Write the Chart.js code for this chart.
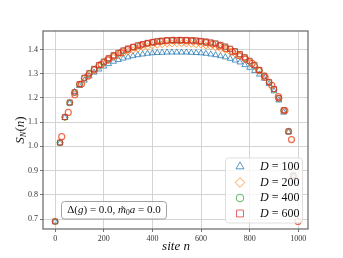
<!DOCTYPE html>
<html>
<head>
<meta charset="utf-8">
<script src="https://cdn.jsdelivr.net/npm/chart.js@4.4.1/dist/chart.umd.min.js"></script>
<style>
  html, body { margin: 0; padding: 0; background: #fff; }
  #box { width: 343px; height: 258px; }
</style>
</head>
<body>
<div id="box"><canvas id="myChart"></canvas></div>
<script>
// site positions
const sitesA = [0, 20, 40, 60, 80, 100, 120, 140, 160, 180, 200, 220, 240, 260, 280, 300, 320, 340, 360, 380,
    400, 420, 440, 460, 480, 500, 520, 540, 560, 580, 600, 620, 640, 660, 680, 700, 720, 740, 760, 780,
    800, 820, 840, 860, 880, 900, 920, 940, 960, 980];
const sitesB = [27, 54, 81, 108, 135, 162, 189, 216, 243, 270, 297, 324, 351, 378, 405, 432, 459, 486,
    513, 540, 567, 594, 621, 648, 675, 702, 729, 756, 783, 810, 837, 864, 891, 918, 945, 972, 999];

// entropy values
const d100 = [0.69, 1.013, 1.118, 1.178, 1.225, 1.25, 1.272, 1.29, 1.305, 1.318, 1.33, 1.34, 1.35, 1.357, 1.363,
    1.368, 1.373, 1.377, 1.38, 1.383, 1.385, 1.386, 1.387, 1.388, 1.388, 1.388, 1.388, 1.388, 1.387, 1.386,
    1.385, 1.383, 1.38, 1.377, 1.373, 1.368, 1.362, 1.355, 1.347, 1.336, 1.325, 1.312, 1.297, 1.28, 1.258,
    1.228, 1.19, 1.14, 1.058, 0.875];
const d200 = [0.69, 1.015, 1.12, 1.18, 1.222, 1.255, 1.281, 1.299, 1.316, 1.331, 1.344, 1.356, 1.367, 1.376, 1.384,
    1.391, 1.397, 1.403, 1.408, 1.412, 1.416, 1.419, 1.421, 1.423, 1.424, 1.425, 1.425, 1.424, 1.423, 1.421,
    1.419, 1.416, 1.412, 1.408, 1.403, 1.397, 1.39, 1.382, 1.372, 1.361, 1.347, 1.331, 1.311, 1.289, 1.263,
    1.235, 1.197, 1.147, 1.061, 0.879];
const d400 = [0.69, 1.015, 1.12, 1.18, 1.222, 1.256, 1.282, 1.30, 1.318, 1.334, 1.348, 1.362, 1.374, 1.384, 1.394,
    1.402, 1.409, 1.415, 1.42, 1.425, 1.429, 1.432, 1.434, 1.436, 1.437, 1.437, 1.437, 1.437, 1.436, 1.435,
    1.433, 1.431, 1.427, 1.423, 1.417, 1.41, 1.401, 1.391, 1.379, 1.366, 1.351, 1.334, 1.313, 1.29, 1.264,
    1.236, 1.198, 1.148, 1.062, 0.88];
const d600 = [0.69, 1.016, 1.121, 1.181, 1.223, 1.257, 1.283, 1.302, 1.32, 1.336, 1.35, 1.364, 1.376, 1.386, 1.396,
    1.404, 1.411, 1.417, 1.422, 1.427, 1.431, 1.434, 1.436, 1.438, 1.439, 1.439, 1.439, 1.439, 1.438, 1.437,
    1.435, 1.433, 1.429, 1.425, 1.419, 1.412, 1.403, 1.393, 1.381, 1.368, 1.353, 1.336, 1.315, 1.292, 1.266,
    1.237, 1.199, 1.149, 1.062, 0.88];
const extra = [1.04, 1.14, 1.213, 1.257, 1.29, 1.315, 1.338, 1.357, 1.373, 1.387, 1.399, 1.409, 1.417, 1.424,
    1.429, 1.433, 1.436, 1.437, 1.437, 1.436, 1.435, 1.432, 1.428, 1.422, 1.414, 1.403, 1.39, 1.374, 1.36,
    1.342, 1.315, 1.285, 1.252, 1.205, 1.148, 1.028, 0.69];

const xTicks = [0, 200, 400, 600, 800, 1000];
const yTicks = [0.7, 0.8, 0.9, 1.0, 1.1, 1.2, 1.3, 1.4];

const legendLabels = ['100', '200', '400', '600'];
const colors = ['rgba(31,119,180,0.75)', 'rgba(255,127,14,0.75)', 'rgba(44,160,44,0.75)', 'rgba(214,39,40,0.7)'];
const styles = ['triangle', 'rectRot', 'circle', 'rect'];
const radii = [3.4, 3.4, 2.9, 3.6];

const pts = (xs, ys) => xs.map((x, i) => ({ x: x, y: ys[i] }));
const series = [d100, d200, d400, d600];

const datasets = series.map((s, i) => ({
    data: pts(sitesA, s),
    pointStyle: styles[i],
    pointRadius: radii[i],
    borderColor: colors[i],
    backgroundColor: 'rgba(0,0,0,0)',
    pointBorderWidth: 1,
    showLine: false,
    order: 5 - i
}));
datasets.push({
    data: pts(sitesB, extra),
    pointStyle: 'circle',
    pointRadius: 3,
    borderColor: 'rgba(238,84,46,0.85)',
    backgroundColor: 'rgba(0,0,0,0)',
    pointBorderWidth: 1.2,
    showLine: false,
    order: 2.5
});

const serif = "'Liberation Serif', 'DejaVu Serif', serif";

// draw a row of text pieces: [text, size, italic, dy]
function drawPieces(ctx, pieces, x, y, align) {
    let total = 0;
    pieces.forEach(p => {
        ctx.font = (p[2] ? 'italic ' : '') + p[1] + 'px ' + serif;
        total += ctx.measureText(p[0]).width;
    });
    let cx = align === 'center' ? x - total / 2 : (align === 'right' ? x - total : x);
    ctx.textBaseline = 'middle';
    ctx.textAlign = 'left';
    pieces.forEach(p => {
        ctx.font = (p[2] ? 'italic ' : '') + p[1] + 'px ' + serif;
        ctx.fillText(p[0], cx, y + (p[3] || 0));
        cx += ctx.measureText(p[0]).width;
    });
    return total;
}

function roundRect(ctx, x, y, w, h, r) {
    ctx.beginPath();
    ctx.moveTo(x + r, y);
    ctx.lineTo(x + w - r, y);
    ctx.quadraticCurveTo(x + w, y, x + w, y + r);
    ctx.lineTo(x + w, y + h - r);
    ctx.quadraticCurveTo(x + w, y + h, x + w - r, y + h);
    ctx.lineTo(x + r, y + h);
    ctx.quadraticCurveTo(x, y + h, x, y + h - r);
    ctx.lineTo(x, y + r);
    ctx.quadraticCurveTo(x, y, x + r, y);
    ctx.closePath();
}

const extras = {
    id: 'extras',
    afterDatasetsDraw(chart) {
        const ctx = chart.ctx;
        const a = chart.chartArea;
        ctx.save();

        // frame
        ctx.strokeStyle = '#666';
        ctx.lineWidth = 1.2;
        ctx.strokeRect(a.left, a.top, a.right - a.left, a.bottom - a.top);

        // legend
        roundRect(ctx, 225.5, 158, 77, 65, 3);
        ctx.fillStyle = 'rgba(255,255,255,0.8)';
        ctx.fill();
        ctx.strokeStyle = 'rgba(215,215,215,0.8)';
        ctx.lineWidth = 1;
        ctx.stroke();
        const rowY = [166.5, 182.5, 198, 213.5];
        const legR = [4.6, 4.8, 3.8, 4.9];
        legendLabels.forEach((lab, i) => {
            ctx.strokeStyle = colors[i];
            ctx.fillStyle = 'rgba(0,0,0,0)';
            ctx.lineWidth = 1;
            Chart.helpers.drawPoint(ctx, { pointStyle: styles[i], radius: legR[i], rotation: 0, borderWidth: 1 }, 240, rowY[i]);
            ctx.fillStyle = '#111';
            drawPieces(ctx, [['D', 12, true], [' = ' + lab, 12, false]], 299.5, rowY[i], 'right');
        });

        // annotation box
        roundRect(ctx, 61.5, 201.5, 105, 17.5, 3);
        ctx.fillStyle = 'rgba(255,255,255,0.8)';
        ctx.fill();
        ctx.strokeStyle = '#999';
        ctx.lineWidth = 0.9;
        ctx.stroke();
        ctx.fillStyle = '#111';
        drawPieces(ctx, [['\u0394(', 11, false], ['g', 11, true], [') = 0.0, ', 11, false],
            ['m\u0303', 11, true], ['0', 7.5, false, 2.5], ['a', 11, true], [' = 0.0', 11, false]], 114, 210.5, 'center');

        // axis titles
        drawPieces(ctx, [['site', 13, true], [' n', 13, true]], 176, 246.5, 'center');
        ctx.translate(21, 130);
        ctx.rotate(-Math.PI / 2);
        drawPieces(ctx, [['S', 13, true], ['N', 8.5, true, 3], ['(', 13, false], ['n', 13, true], [')', 13, false]], 0, 0, 'center');
        ctx.restore();
    }
};

const chart = new Chart('myChart', {
    type: 'scatter',
    data: { datasets: datasets },
    options: {
        responsive: true,
        maintainAspectRatio: false,
        animation: false,
        layout: { padding: { left: 0, right: 35, top: 31, bottom: 0 } },
        plugins: {
            legend: { display: false },
            tooltip: { enabled: false }
        },
        scales: {
            x: {
                type: 'linear',
                min: -50,
                max: 1040,
                afterBuildTicks: s => { s.ticks = xTicks.map(v => ({ value: v })); },
                afterFit: s => { s.height = 29; },
                grid: { color: '#cfcfcf', lineWidth: 0.9, tickLength: 3, tickColor: '#666' },
                border: { display: false },
                ticks: { color: '#333', font: { family: serif, size: 8 }, padding: 2, maxRotation: 0,
                    callback: v => String(v) }
            },
            y: {
                min: 0.659,
                max: 1.476,
                afterBuildTicks: s => { s.ticks = yTicks.map(v => ({ value: v })); },
                afterFit: s => { s.width = 43; },
                grid: { color: '#cfcfcf', lineWidth: 0.9, tickLength: 3, tickColor: '#666' },
                border: { display: false },
                ticks: { color: '#333', font: { family: serif, size: 8 }, padding: 2,
                    callback: v => v.toFixed(1) }
            }
        }
    },
    plugins: [extras]
});
</script>
</body>
</html>
